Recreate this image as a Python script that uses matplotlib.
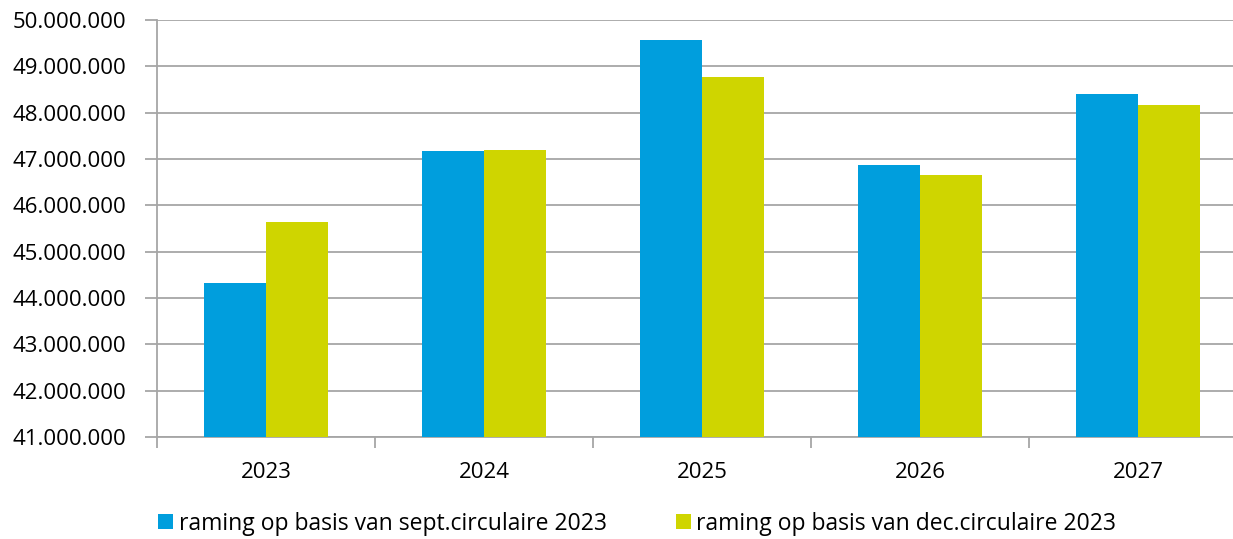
import numpy as np
import matplotlib
matplotlib.use("Agg")
import matplotlib.pyplot as plt
from matplotlib.ticker import FuncFormatter, FixedLocator

jaren = ["2023", "2024", "2025", "2026", "2027"]
sept = [44330000, 47180000, 49560000, 46860000, 48410000]
dec = [45640000, 47200000, 48780000, 46660000, 48170000]
labels = ["raming op basis van sept.circulaire 2023",
          "raming op basis van dec.circulaire 2023"]

blauw = "#009EDD"
geel = "#CFD500"
grijs = "#A6A6A6"

plt.rcParams['font.family'] = ['Open Sans', 'DejaVu Sans']

fig = plt.figure(figsize=(12.33, 5.39), dpi=100)
ax = fig.add_axes([157/1233, 1 - 437/539, 1 - 157/1233, (437 - 20)/539])

x = np.arange(len(jaren))
w = 0.285
b1 = ax.bar(x - w/2, sept, w, color=blauw, label=labels[0], zorder=3)
b2 = ax.bar(x + w/2, dec, w, color=geel, label=labels[1], zorder=3)

ax.set_ylim(41000000, 50000000)
ax.set_xlim(-0.5, 4.5 - 14/218)
ax.set_yticks(np.arange(41000000, 50000001, 1000000))
ax.yaxis.set_major_formatter(FuncFormatter(lambda v, p: f"{int(v):,}".replace(",", ".")))
ax.grid(axis='y', color=grijs, linewidth=1.3, zorder=0)

ax.set_xticks(x)
ax.set_xticklabels(jaren)
ax.xaxis.set_minor_locator(FixedLocator(np.arange(-0.5, 4.5, 1)))
ax.tick_params(axis='x', which='major', length=0, pad=18, labelsize=16)
ax.tick_params(axis='x', which='minor', length=8, color=grijs, width=1.3)
ax.tick_params(axis='y', length=9, color=grijs, width=1.3, labelsize=16, pad=13)

for s in ['top', 'right']:
    ax.spines[s].set_visible(False)
for s in ['left', 'bottom']:
    ax.spines[s].set_color(grijs)
    ax.spines[s].set_linewidth(1.3)

leg = fig.legend(handles=[b1, b2], labels=labels, loc='lower left',
                 bbox_to_anchor=(140/1233, -0.028), ncol=2, frameon=False,
                 fontsize=16.5, handlelength=0.65, handleheight=0.65,
                 handletextpad=0.25, columnspacing=3.0, borderpad=0.3)

fig.savefig("out.png", dpi=100)
